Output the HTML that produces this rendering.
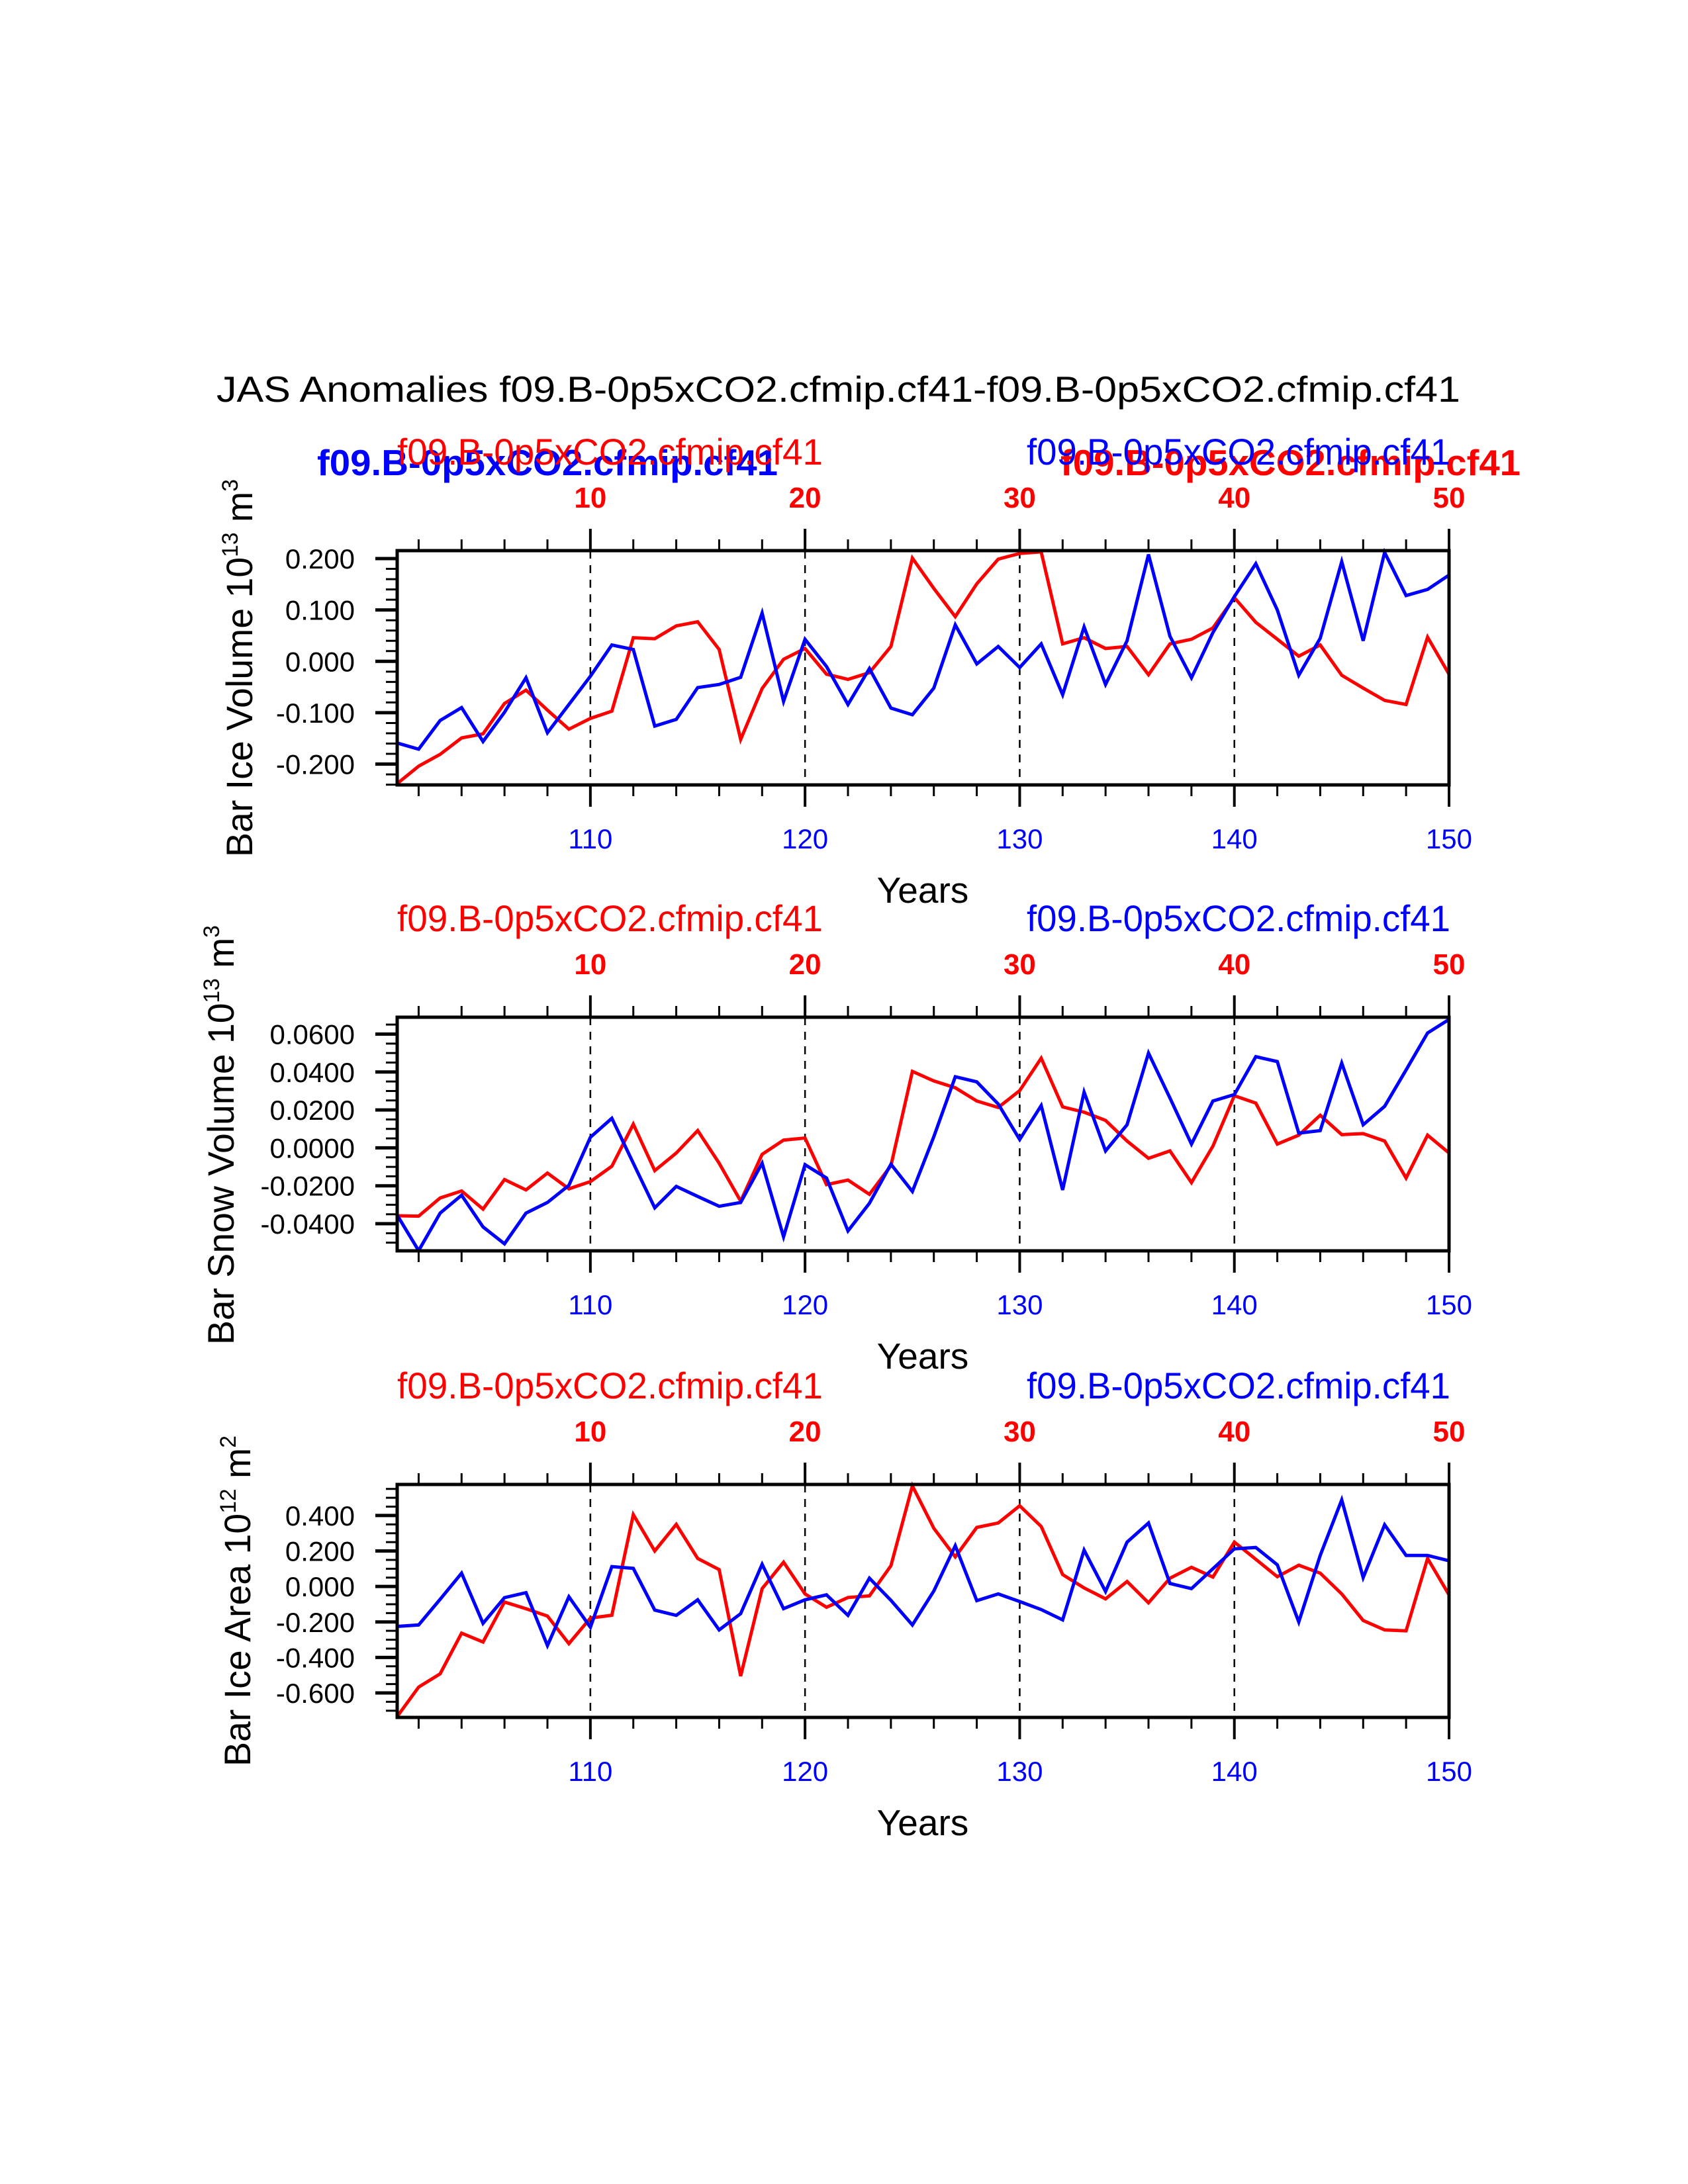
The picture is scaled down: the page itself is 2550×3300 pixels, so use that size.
<!DOCTYPE html>
<html><head><meta charset="utf-8"><style>
html,body{margin:0;padding:0;background:#fff;}
svg{display:block;font-family:"Liberation Sans",Arial,sans-serif;}
</style></head><body>
<svg id="chart" width="2550" height="3300" viewBox="0 0 2550 3300" xmlns="http://www.w3.org/2000/svg">
<rect width="2550" height="3300" fill="#fff"/>
<text x="327" y="607" font-size="55" textLength="1879" lengthAdjust="spacingAndGlyphs">JAS Anomalies f09.B-0p5xCO2.cfmip.cf41-f09.B-0p5xCO2.cfmip.cf41</text>
</svg>
<script>
const years = Array.from({length:50},(_,i)=>101+i);
const iceVolBlue = [-0.159,-0.171,-0.115,-0.090,-0.156,-0.099,-0.032,-0.139,-0.084,-0.029,0.032,0.023,-0.126,-0.113,-0.051,-0.045,-0.031,0.094,-0.078,0.043,-0.010,-0.084,-0.014,-0.091,-0.104,-0.052,0.071,-0.005,0.029,-0.012,0.034,-0.065,0.067,-0.045,0.040,0.208,0.049,-0.032,0.056,0.126,0.190,0.100,-0.027,0.045,0.194,0.040,0.212,0.128,0.140,0.168];
const iceVolRed = [-0.238,-0.204,-0.181,-0.149,-0.141,-0.082,-0.056,-0.095,-0.132,-0.111,-0.097,0.046,0.044,0.069,0.077,0.023,-0.152,-0.053,0.004,0.025,-0.025,-0.035,-0.022,0.029,0.201,0.142,0.087,0.151,0.199,0.210,0.213,0.034,0.046,0.025,0.029,-0.026,0.034,0.043,0.065,0.124,0.076,0.043,0.010,0.032,-0.027,-0.052,-0.076,-0.084,0.047,-0.025];
const snowVolBlue = [-0.0355,-0.0542,-0.0344,-0.025,-0.0417,-0.0506,-0.0344,-0.0288,-0.0198,0.0056,0.0156,-0.0081,-0.0316,-0.0203,-0.0256,-0.0308,-0.0288,-0.0081,-0.0469,-0.0089,-0.0159,-0.0438,-0.0292,-0.0086,-0.023,0.0059,0.0375,0.0348,0.0231,0.0044,0.0223,-0.0222,0.0294,-0.0016,0.0122,0.05,0.0263,0.002,0.0247,0.0281,0.0481,0.0455,0.0078,0.0091,0.0447,0.0122,0.0219,0.0411,0.0606,0.0677];
const snowVolRed = [-0.0358,-0.036,-0.0264,-0.0227,-0.0323,-0.0167,-0.0222,-0.0133,-0.0216,-0.0178,-0.0097,0.0125,-0.012,-0.0027,0.0091,-0.0081,-0.0281,-0.0034,0.0041,0.0052,-0.0194,-0.017,-0.0245,-0.0094,0.0403,0.0353,0.0317,0.0247,0.0213,0.0302,0.0473,0.0216,0.0188,0.0145,0.0036,-0.0055,-0.0016,-0.0183,0.0009,0.0275,0.0236,0.002,0.0067,0.0172,0.007,0.0075,0.0036,-0.0159,0.0067,-0.0027];
const iceAreaBlue = [-0.225,-0.217,-0.072,0.075,-0.208,-0.063,-0.035,-0.333,-0.058,-0.23,0.112,0.102,-0.133,-0.163,-0.075,-0.245,-0.153,0.125,-0.125,-0.075,-0.047,-0.163,0.047,-0.078,-0.217,-0.025,0.23,-0.08,-0.042,-0.085,-0.13,-0.188,0.205,-0.028,0.25,0.358,0.017,-0.012,0.1,0.212,0.22,0.122,-0.2,0.175,0.488,0.05,0.348,0.175,0.175,0.145];
const iceAreaRed = [-0.733,-0.567,-0.492,-0.263,-0.313,-0.088,-0.125,-0.167,-0.322,-0.178,-0.162,0.405,0.2,0.35,0.158,0.095,-0.505,-0.012,0.137,-0.042,-0.117,-0.062,-0.053,0.117,0.567,0.328,0.167,0.333,0.358,0.455,0.338,0.067,-0.008,-0.07,0.028,-0.092,0.047,0.108,0.053,0.25,0.153,0.055,0.12,0.075,-0.042,-0.192,-0.245,-0.25,0.158,-0.047];
const iceVolTicks = [-0.2,-0.1,0,0.1,0.2];
const iceVolTickLabels = ["-0.200","-0.100","0.000","0.100","0.200"];
const snowVolTicks = [-0.04,-0.02,0,0.02,0.04,0.06];
const snowVolTickLabels = ["-0.0400","-0.0200","0.0000","0.0200","0.0400","0.0600"];
const iceAreaTicks = [-0.6,-0.4,-0.2,0,0.2,0.4];
const iceAreaTickLabels = ["-0.600","-0.400","-0.200","0.000","0.200","0.400"];
const bottomXTicks = [110,120,130,140,150];
const topXTickLabels = ["10","20","30","40","50"];

const NS="http://www.w3.org/2000/svg";
const svg=document.getElementById('chart');
function mk(tag,attrs,parent){const e=document.createElementNS(NS,tag);for(const k in attrs)e.setAttribute(k,attrs[k]);(parent||svg).appendChild(e);return e;}

const panels=[
 {key:'ice-volume',top:832,bottom:1186,ymin:-0.2405,ymax:0.2155,minor:0.02,ticks:iceVolTicks,labels:iceVolTickLabels,blue:iceVolBlue,red:iceVolRed,
  ylab:'Bar Ice Volume 10',sup1:'13',unit:' m',sup2:'3',ylx:381,yly:1295,ylen:571,bold:true},
 {key:'snow-volume',top:1537,bottom:1890,ymin:-0.0543,ymax:0.0689,minor:0.005,ticks:snowVolTicks,labels:snowVolTickLabels,blue:snowVolBlue,red:snowVolRed,
  ylab:'Bar Snow Volume 10',sup1:'13',unit:' m',sup2:'3',ylx:353,yly:2032,ylen:634,bold:false},
 {key:'ice-area',top:2243,bottom:2595,ymin:-0.738,ymax:0.575,minor:0.05,ticks:iceAreaTicks,labels:iceAreaTickLabels,blue:iceAreaBlue,red:iceAreaRed,
  ylab:'Bar Ice Area 10',sup1:'12',unit:' m',sup2:'2',ylx:378,yly:2669,ylen:500,bold:false}
];
const X0=600,X1=2189,YR0=101,YR1=150;
const xs=y=>X0+(y-YR0)*(X1-X0)/(YR1-YR0);

panels.forEach(p=>{
  const g=mk('g',{});
  
  
  const ys=v=>p.bottom-(v-p.ymin)*(p.bottom-p.top)/(p.ymax-p.ymin);
  // grid dashed
  bottomXTicks.slice(0,4).forEach(t=>{
    const l=mk('line',{x1:xs(t),x2:xs(t),y1:p.top,y2:p.bottom,stroke:'#000','stroke-width':2.5,'stroke-dasharray':'12,10'},g);
    
    
  });
  // series
  [['red',p.red,'#ff0000'],['blue',p.blue,'#0000ff']].forEach(([nm,arr,col])=>{
    const pts=arr.map((v,i)=>xs(years[i]).toFixed(1)+','+ys(v).toFixed(1)).join(' ');
    const pl=mk('polyline',{points:pts,fill:'none',stroke:col,'stroke-width':5,'stroke-linejoin':'miter'},g);
    
    
  });
  // white mask outside? border
  const r=mk('rect',{x:X0,y:p.top,width:X1-X0,height:p.bottom-p.top,fill:'none',stroke:'#000','stroke-width':5},g);
  
  
  // x ticks top & bottom
  for(let yr=102;yr<=150;yr+=2){
    const major=yr%10===0, x=xs(yr);
    mk('line',{x1:x,x2:x,y1:p.top,y2:p.top-(major?33:17),stroke:'#000','stroke-width':major?4:3},g);
    mk('line',{x1:x,x2:x,y1:p.bottom,y2:p.bottom+(major?33:17),stroke:'#000','stroke-width':major?4:3},g);
  }
  // y ticks
  const mstart=Math.ceil(p.ymin/p.minor-1e-6), mend=Math.floor(p.ymax/p.minor+1e-6);
  for(let k=mstart;k<=mend;k++){
    const v=k*p.minor, y=ys(v);
    mk('line',{x1:X0,x2:X0-17,y1:y,y2:y,stroke:'#000','stroke-width':3},g);
  }
  p.ticks.forEach((t,i)=>{
    const y=ys(t);
    mk('line',{x1:X0,x2:X0-33,y1:y,y2:y,stroke:'#000','stroke-width':5},g);
    const tx=mk('text',{x:536,y:y+15,'font-size':42,'text-anchor':'end'},g);
    tx.textContent=p.labels[i];
    
    
  });
  // bottom x labels
  bottomXTicks.forEach(t=>{
    const tx=mk('text',{x:xs(t),y:p.bottom+96,'font-size':42,'text-anchor':'middle',fill:'#0000ff'},g);
    tx.textContent=String(t);
    
    
  });
  topXTickLabels.forEach((t,i)=>{
    const tx=mk('text',{x:xs(bottomXTicks[i]),y:p.top-65,'font-size':44,'font-weight':'bold','text-anchor':'middle',fill:'#ff0000'},g);
    tx.textContent=t;
    
    
  });
  // x title
  const xt=mk('text',{x:1394,y:p.bottom+178,'font-size':55,'text-anchor':'middle'},g);
  xt.textContent='Years';
  
  
  // y title
  const yt=mk('text',{x:p.ylx,y:p.yly,'font-size':56,transform:'rotate(-90 '+p.ylx+' '+p.yly+')',textLength:p.ylen,lengthAdjust:'spacingAndGlyphs'},g);
  
  
  const s0=mk('tspan',{},yt);s0.textContent=p.ylab;
  const s1=mk('tspan',{dy:-22,'font-size':34},yt);s1.textContent=p.sup1;
  const s2=mk('tspan',{dy:22},yt);s2.textContent=p.unit;
  const s3=mk('tspan',{dy:-22,'font-size':34},yt);s3.textContent=p.sup2;
  // case labels
  const off=p.top-832;
  if(p.bold){
    const b1=mk('text',{x:479,y:718,'font-size':55,'font-weight':'bold',fill:'#0000ff',textLength:696,lengthAdjust:'spacingAndGlyphs'},g);
    b1.textContent='f09.B-0p5xCO2.cfmip.cf41';
    
    
    const b2=mk('text',{x:1602,y:718,'font-size':55,'font-weight':'bold',fill:'#ff0000',textLength:695,lengthAdjust:'spacingAndGlyphs'},g);
    b2.textContent='f09.B-0p5xCO2.cfmip.cf41';
    
    
  }
  const l1=mk('text',{x:600,y:702+off,'font-size':56,fill:'#ff0000',textLength:643,lengthAdjust:'spacingAndGlyphs'},g);
  l1.textContent='f09.B-0p5xCO2.cfmip.cf41';
  
  
  const l2=mk('text',{x:1551,y:702+off,'font-size':56,fill:'#0000ff',textLength:640,lengthAdjust:'spacingAndGlyphs'},g);
  l2.textContent='f09.B-0p5xCO2.cfmip.cf41';
  
  
});
</script>
</body></html>
